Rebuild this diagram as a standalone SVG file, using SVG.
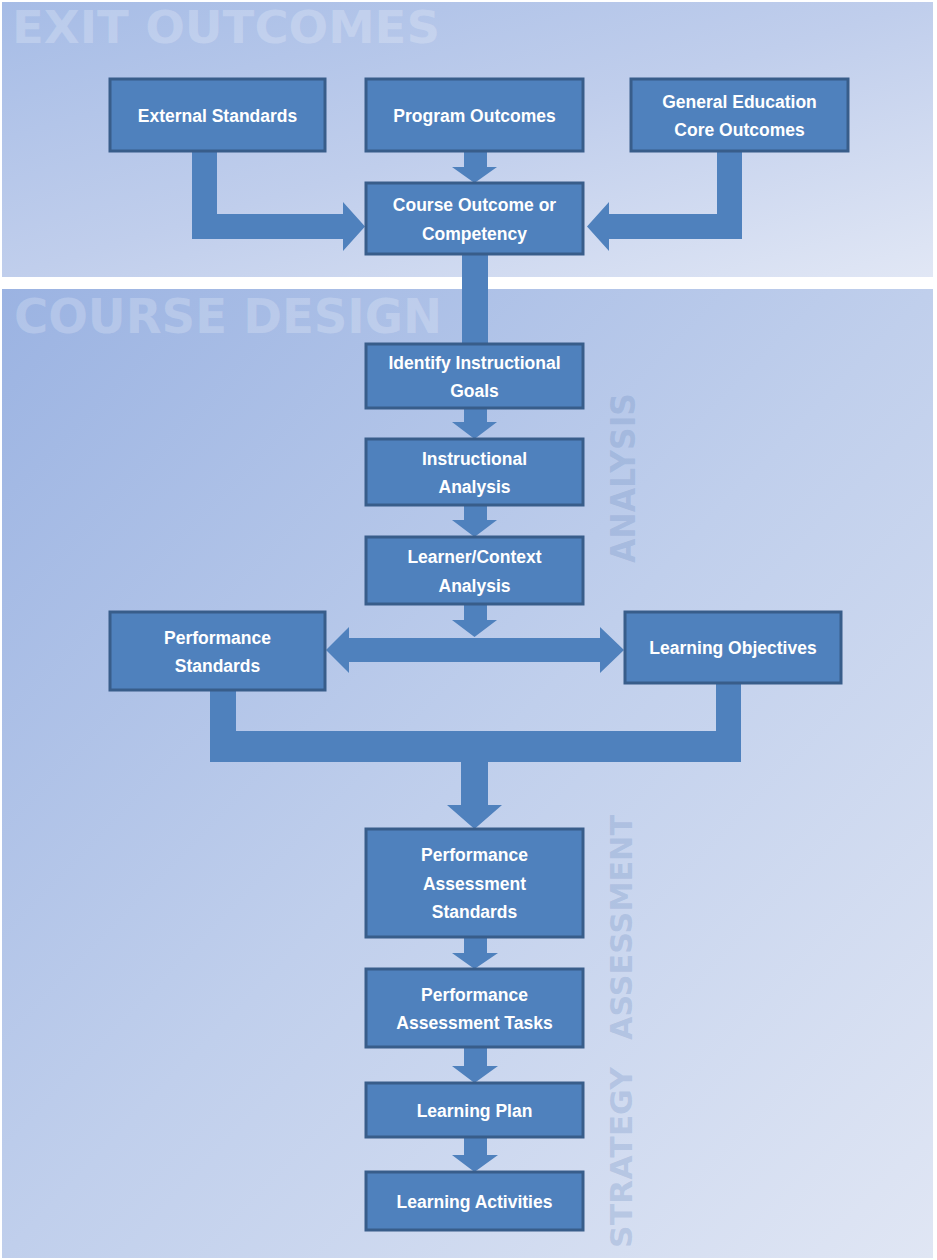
<svg xmlns="http://www.w3.org/2000/svg" width="937" height="1260" viewBox="0 0 937 1260">
  <defs>
    <linearGradient id="bgTop" x1="0" y1="0" x2="1" y2="1">
      <stop offset="0" stop-color="#a6bce6"/>
      <stop offset="0.5" stop-color="#c0ceec"/>
      <stop offset="1" stop-color="#e1e7f5"/>
    </linearGradient>
    <linearGradient id="bgBottom" x1="0" y1="0" x2="1" y2="1">
      <stop offset="0" stop-color="#9bb3e2"/>
      <stop offset="0.5" stop-color="#c0cfec"/>
      <stop offset="1" stop-color="#e0e6f4"/>
    </linearGradient>
    <style>
      .box { fill: #4f81bd; stroke: #385d8a; stroke-width: 3; }
      .lbl { font-family: "Liberation Sans", Arial, sans-serif; font-weight: bold; font-size: 17.5px; fill: #ffffff; text-anchor: middle; }
      .arrow { fill: #4f81bd; }
      .zone { font-family: "DejaVu Sans", "Liberation Sans", sans-serif; font-weight: bold; fill: #ffffff; fill-opacity: 0.22; }
      .phase { font-family: "DejaVu Sans", "Liberation Sans", sans-serif; font-weight: bold; fill: #6f8fc2; fill-opacity: 0.3; }
    </style>
  </defs>

  <!-- page and section panels -->
  <rect x="0" y="0" width="937" height="1260" fill="#ffffff"/>
  <rect id="panel-exit" x="2" y="2" width="931" height="275" fill="url(#bgTop)"/>
  <rect id="panel-design" x="2" y="289" width="931" height="969" fill="url(#bgBottom)"/>

  <!-- section headings -->
  <text class="zone" x="12" y="43" font-size="45" textLength="428" lengthAdjust="spacingAndGlyphs">EXIT OUTCOMES</text>
  <text class="zone" x="14" y="333" font-size="48" textLength="428" lengthAdjust="spacingAndGlyphs">COURSE DESIGN</text>

  <!-- phase labels (vertical) -->
  <text class="phase" transform="translate(635,563) rotate(-90)" font-size="34" textLength="170" lengthAdjust="spacingAndGlyphs">ANALYSIS</text>
  <text class="phase" transform="translate(632,1248) rotate(-90)" font-size="30" textLength="181" lengthAdjust="spacingAndGlyphs">STRATEGY</text>
  <text class="phase" transform="translate(632,1040) rotate(-90)" font-size="30" textLength="225" lengthAdjust="spacingAndGlyphs">ASSESSMENT</text>

  <!-- connectors -->
  <g id="connectors" class="arrow">
    <polygon points="192,151 217,151 217,214 343,214 343,202 365,226.5 343,251 343,239 192,239"/>
    <polygon points="742,151 717,151 717,214 609,214 609,202 587,226.5 609,251 609,239 742,239"/>
    <polygon points="464,151 487,151 487,167 497,167 474.5,183 452,167 464,167"/>
    <rect x="462" y="254" width="26" height="90"/>
    <polygon points="464,408 487,408 487,422 497,422 474.5,439 452,422 464,422"/>
    <polygon points="464,505 487,505 487,520 497,520 474.5,537 452,520 464,520"/>
    <polygon points="464,604 487,604 487,620 497,620 474.5,637 452,620 464,620"/>
    <polygon points="326,650 349,627 349,638 600,638 600,627 624,650 600,673 600,662 349,662 349,673"/>
    <polygon points="210,690 236,690 236,731 716,731 716,683 741,683 741,762 488,762 488,805 502,805 474.5,829 447,805 461,805 461,762 210,762"/>
    <polygon points="464,937 487,937 487,953 498,953 474.5,969 452,953 464,953"/>
    <polygon points="464,1047 487,1047 487,1066 498,1066 474.5,1083 452,1066 464,1066"/>
    <polygon points="464,1137 487,1137 487,1155 498,1155 474.5,1172 452,1155 464,1155"/>
  </g>

  <!-- nodes -->
  <g id="external-standards">
    <rect class="box" x="110" y="79" width="215" height="72"/>
    <text class="lbl" x="217.5" y="121.5">External Standards</text>
  </g>
  <g id="program-outcomes">
    <rect class="box" x="366" y="79" width="217" height="72"/>
    <text class="lbl" x="474.5" y="121.5">Program Outcomes</text>
  </g>
  <g id="gen-ed-outcomes">
    <rect class="box" x="631" y="79" width="217" height="72"/>
    <text class="lbl" x="739.5" y="107.5">General Education</text>
    <text class="lbl" x="739.5" y="136">Core Outcomes</text>
  </g>
  <g id="course-outcome">
    <rect class="box" x="366" y="183" width="217" height="71"/>
    <text class="lbl" x="474.5" y="211">Course Outcome or</text>
    <text class="lbl" x="474.5" y="239.5">Competency</text>
  </g>
  <g id="instructional-goals">
    <rect class="box" x="366" y="344" width="217" height="64"/>
    <text class="lbl" x="474.5" y="368.5">Identify Instructional</text>
    <text class="lbl" x="474.5" y="397">Goals</text>
  </g>
  <g id="instructional-analysis">
    <rect class="box" x="366" y="439" width="217" height="66"/>
    <text class="lbl" x="474.5" y="464.5">Instructional</text>
    <text class="lbl" x="474.5" y="493">Analysis</text>
  </g>
  <g id="learner-context">
    <rect class="box" x="366" y="537" width="217" height="67"/>
    <text class="lbl" x="474.5" y="563">Learner/Context</text>
    <text class="lbl" x="474.5" y="591.5">Analysis</text>
  </g>
  <g id="performance-standards">
    <rect class="box" x="110" y="612" width="215" height="78"/>
    <text class="lbl" x="217.5" y="643.5">Performance</text>
    <text class="lbl" x="217.5" y="672">Standards</text>
  </g>
  <g id="learning-objectives">
    <rect class="box" x="625" y="612" width="216" height="71"/>
    <text class="lbl" x="733" y="654">Learning Objectives</text>
  </g>
  <g id="assessment-standards">
    <rect class="box" x="366" y="829" width="217" height="108"/>
    <text class="lbl" x="474.5" y="861">Performance</text>
    <text class="lbl" x="474.5" y="889.5">Assessment</text>
    <text class="lbl" x="474.5" y="918">Standards</text>
  </g>
  <g id="assessment-tasks">
    <rect class="box" x="366" y="969" width="217" height="78"/>
    <text class="lbl" x="474.5" y="1000.5">Performance</text>
    <text class="lbl" x="474.5" y="1029">Assessment Tasks</text>
  </g>
  <g id="learning-plan">
    <rect class="box" x="366" y="1083" width="217" height="54"/>
    <text class="lbl" x="474.5" y="1116.5">Learning Plan</text>
  </g>
  <g id="learning-activities">
    <rect class="box" x="366" y="1172" width="217" height="58"/>
    <text class="lbl" x="474.5" y="1207.5">Learning Activities</text>
  </g>
</svg>
